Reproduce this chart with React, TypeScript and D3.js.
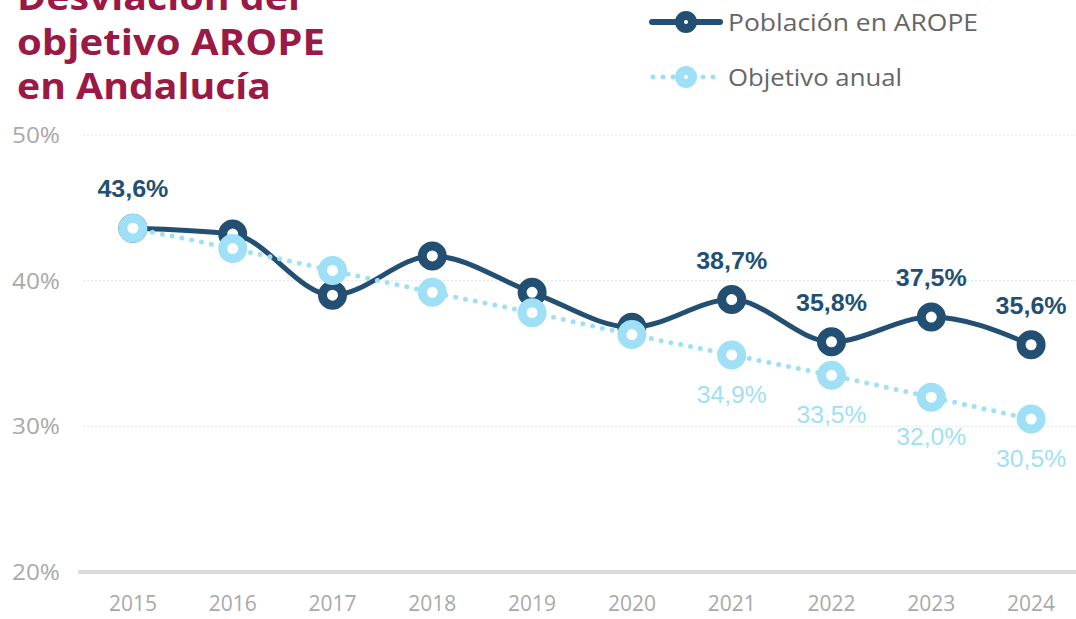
import React from "react";
import * as d3 from "d3";

const years = ["2015", "2016", "2017", "2018", "2019", "2020", "2021", "2022", "2023", "2024"];
const poblacion = [43.6, 43.2, 39.0, 41.7, 39.2, 36.8, 38.7, 35.8, 37.5, 35.6];
const objetivo = [43.6, 42.2, 40.7, 39.2, 37.8, 36.3, 34.9, 33.5, 32.0, 30.5];
const poblacionLabelYears = ["2015", "2021", "2022", "2023", "2024"];
const objetivoLabelYears = ["2021", "2022", "2023", "2024"];
const yTicks = [20, 30, 40, 50];
const titleLines = ["Desviación del", "objetivo AROPE", "en Andalucía"];
const legendItems = ["Población en AROPE", "Objetivo anual"];

const W = 1076;
const H = 619;
const DARK = "#234f72";
const LIGHT = "#9fe0f6";
const TITLE = "#9a1a45";
const GRAY = "#a9a9a9";

const fmt = (v: number) => v.toFixed(1).replace(".", ",") + "%";

export default function App() {
  const x = d3.scalePoint<string>().domain(years).range([83, 1081]).padding(0.5);
  const y = d3.scaleLinear().domain([20, 50]).range([572, 135]);

  const line = d3
    .line<number>()
    .x((_, i) => x(years[i]) as number)
    .y((d) => y(d))
    .curve(d3.curveMonotoneX);

  const titleWidths = [283, 308, 254];
  const titleBaselines = [10, 55, 99];

  return (
    <svg
      width={W}
      height={H}
      style={{ position: "absolute", left: 0, top: 0, background: "#fff" }}
    >
      {/* title */}
      {titleLines.map((t, i) => (
        <text
          key={t}
          x={17}
          y={titleBaselines[i]}
          fill={TITLE}
          fontFamily="'Open Sans', 'DejaVu Sans', sans-serif"
          fontWeight={700}
          fontSize={36}
          textLength={titleWidths[i]}
          lengthAdjust="spacingAndGlyphs"
        >
          {t}
        </text>
      ))}

      {/* legend */}
      <g>
        <line x1={652} x2={720} y1={22} y2={22} stroke={DARK} strokeWidth={6} strokeLinecap="round" />
        <circle cx={686} cy={22} r={11} fill={DARK} />
        <circle cx={686} cy={22} r={2} fill="#fff" />
        <text
          x={728}
          y={31}
          fill="#666"
          fontFamily="'Open Sans', sans-serif"
          fontSize={23}
          textLength={250}
          lengthAdjust="spacingAndGlyphs"
        >
          {legendItems[0]}
        </text>
        <line
          x1={653}
          x2={720}
          y1={77}
          y2={77}
          stroke={LIGHT}
          strokeWidth={5}
          strokeLinecap="round"
          strokeDasharray="0 10"
        />
        <circle cx={686} cy={77} r={11} fill={LIGHT} />
        <circle cx={686} cy={77} r={2} fill="#fff" />
        <text
          x={728}
          y={86}
          fill="#666"
          fontFamily="'Open Sans', sans-serif"
          fontSize={23}
          textLength={174}
          lengthAdjust="spacingAndGlyphs"
        >
          {legendItems[1]}
        </text>
      </g>

      {/* grid */}
      {yTicks.map((t) =>
        t === 20 ? (
          <line key={t} x1={78} x2={W} y1={y(t)} y2={y(t)} stroke="#dcdcdc" strokeWidth={4} />
        ) : (
          <line
            key={t}
            x1={83}
            x2={W}
            y1={y(t)}
            y2={y(t)}
            stroke="#e4e4e4"
            strokeWidth={1}
            strokeDasharray="2 2"
          />
        )
      )}
      {yTicks.map((t) => (
        <text
          key={"yt" + t}
          x={60}
          y={y(t) + 8}
          textAnchor="end"
          fill={GRAY}
          fontFamily="'Open Sans', sans-serif"
          fontWeight={400}
          fontSize={22}
          textLength={48}
          lengthAdjust="spacingAndGlyphs"
        >
          {t + "%"}
        </text>
      ))}
      {years.map((yr) => (
        <text
          key={"xt" + yr}
          x={x(yr) as number}
          y={611}
          textAnchor="middle"
          fill={GRAY}
          fontFamily="'Open Sans', sans-serif"
          fontWeight={400}
          fontSize={21}
          textLength={48}
          lengthAdjust="spacingAndGlyphs"
        >
          {yr}
        </text>
      ))}

      {/* poblacion series */}
      <path d={line(poblacion) || ""} fill="none" stroke={DARK} strokeWidth={5} />
      {poblacion.map((v, i) => (
        <circle
          key={"pc" + i}
          cx={x(years[i]) as number}
          cy={y(v)}
          r={10}
          fill="#fff"
          stroke={DARK}
          strokeWidth={9}
        />
      ))}

      {/* objetivo series */}
      <path
        d={line(objetivo) || ""}
        fill="none"
        stroke={LIGHT}
        strokeWidth={5}
        strokeLinecap="round"
        strokeDasharray="0 10"
      />
      {objetivo.map((v, i) => (
        <circle
          key={"oc" + i}
          cx={x(years[i]) as number}
          cy={y(v)}
          r={10}
          fill="#fff"
          stroke={LIGHT}
          strokeWidth={9}
        />
      ))}

      {/* labels */}
      {poblacion.map((v, i) =>
        poblacionLabelYears.includes(years[i]) ? (
          <text
            key={"pl" + i}
            x={x(years[i]) as number}
            y={y(v) - 31}
            textAnchor="middle"
            fill={DARK}
            fontFamily="'Liberation Sans', Arial, sans-serif"
            fontWeight={700}
            fontSize={23}
            textLength={71}
            lengthAdjust="spacingAndGlyphs"
          >
            {fmt(v)}
          </text>
        ) : null
      )}
      {objetivo.map((v, i) =>
        objetivoLabelYears.includes(years[i]) ? (
          <text
            key={"ol" + i}
            x={x(years[i]) as number}
            y={y(v) + 48}
            textAnchor="middle"
            fill={LIGHT}
            fontFamily="'Liberation Sans', Arial, sans-serif"
            fontSize={23}
            textLength={70}
            lengthAdjust="spacingAndGlyphs"
          >
            {fmt(v)}
          </text>
        ) : null
      )}
    </svg>
  );
}
